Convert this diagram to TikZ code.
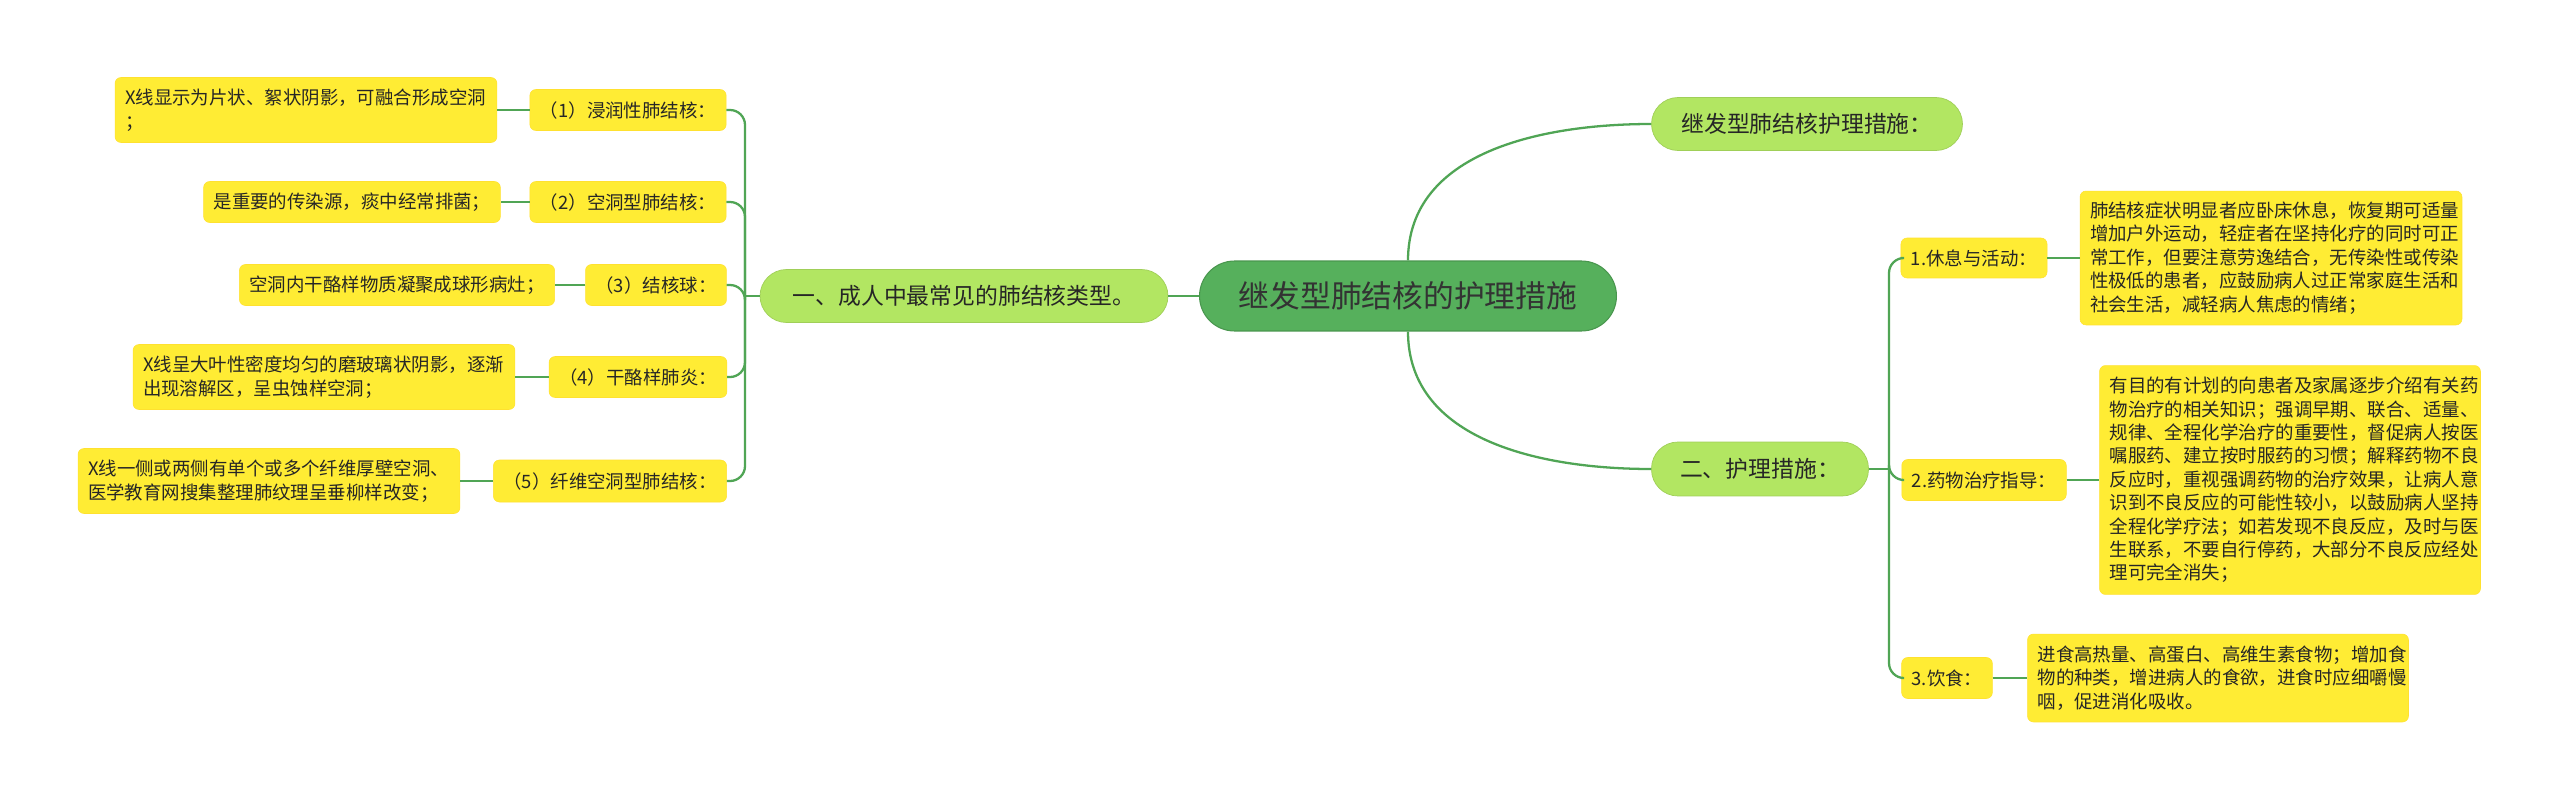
\documentclass[tikz,border=0pt]{standalone}
\usepackage{fontspec}
\setmainfont{Noto Sans CJK SC}
\begin{document}
\begin{tikzpicture}[x=0.02cm,y=-0.02cm,
  line/.style={draw=lineg,line width=1.3pt},
  ctr/.style={fill=cgreen,draw=cgreen!85!black,line width=0.6pt,rounded corners=0.7cm,text=black!80,font=\fontsize{17.5}{20}\selectfont},
  br/.style={fill=lgreen,draw=lgreen!90!black,line width=0.4pt,rounded corners=0.53cm,text=black!85,font=\fontsize{13}{16}\selectfont},
  lf/.style={fill=yel,draw=yel!90!orange,line width=0.3pt,rounded corners=0.12cm,text=black!85,font=\fontsize{10.5}{13.3}\selectfont,inner sep=0.2cm},
  tx/.style={lf,align=left}]
\definecolor{cgreen}{RGB}{86,176,92}
\definecolor{lgreen}{RGB}{178,230,98}
\definecolor{yel}{RGB}{255,236,52}
\definecolor{lineg}{RGB}{80,165,85}
\useasboundingbox[fill=white] (0,0) rectangle (2560,801);
% nodes
\node[ctr,minimum width=8.34cm,minimum height=1.4cm] (c) at (1408,296) {继发型肺结核的护理措施};
\node[br,minimum width=8.16cm,minimum height=1.06cm] (b1) at (964,296) {一、成人中最常见的肺结核类型。};
\node[br,minimum width=6.22cm,minimum height=1.06cm] (rt) at (1807,124) {继发型肺结核护理措施：};
\node[br,minimum width=4.34cm,minimum height=1.08cm] (r2) at (1760,469) {二、护理措施：};
% right leaves
\node[lf,minimum width=2.82cm,minimum height=0.8cm] (l1) at (1974,258) {1.休息与活动：};
\node[tx,text width=7.24cm,minimum height=2.68cm] (t1) at (2271,258) {肺结核症状明显者应卧床休息，恢复期可适量\\增加户外运动，轻症者在坚持化疗的同时可正\\常工作，但要注意劳逸结合，无传染性或传染\\性极低的患者，应鼓励病人过正常家庭生活和\\社会生活，减轻病人焦虑的情绪；};
\node[lf,minimum width=3.2cm,minimum height=0.82cm] (l2) at (1984,480) {2.药物治疗指导：};
\node[tx,text width=7.22cm,minimum height=4.58cm] (t2) at (2290,480) {有目的有计划的向患者及家属逐步介绍有关药\\物治疗的相关知识；强调早期、联合、适量、\\规律、全程化学治疗的重要性，督促病人按医\\嘱服药、建立按时服药的习惯；解释药物不良\\反应时，重视强调药物的治疗效果，让病人意\\识到不良反应的可能性较小，以鼓励病人坚持\\全程化学疗法；如若发现不良反应，及时与医\\生联系，不要自行停药，大部分不良反应经处\\理可完全消失；};
\node[lf,minimum width=1.72cm,minimum height=0.82cm] (l3) at (1947,678) {3.饮食：};
\node[tx,text width=7.22cm,minimum height=1.76cm] (t3) at (2218,678) {进食高热量、高蛋白、高维生素食物；增加食\\物的种类，增进病人的食欲，进食时应细嚼慢\\咽，促进消化吸收。};
% left leaves
\node[lf,minimum width=3.84cm,minimum height=0.82cm] (a1) at (628,110) {（1）浸润性肺结核：};
\node[tx,text width=7.24cm,minimum height=1.3cm] (s1) at (306,110) {X线显示为片状、絮状阴影，可融合形成空洞\\；};
\node[lf,minimum width=3.84cm,minimum height=0.82cm] (a2) at (628,202) {（2）空洞型肺结核：};
\node[lf,minimum width=5.82cm,minimum height=0.82cm] (s2) at (352,202) {是重要的传染源，痰中经常排菌；};
\node[lf,minimum width=2.74cm,minimum height=0.82cm] (a3) at (656,285) {（3）结核球：};
\node[lf,minimum width=6.2cm,minimum height=0.82cm] (s3) at (397,285) {空洞内干酪样物质凝聚成球形病灶；};
\node[lf,minimum width=3.46cm,minimum height=0.82cm] (a4) at (638,377) {（4）干酪样肺炎：};
\node[tx,text width=7.24cm,minimum height=1.3cm] (s4) at (324,377) {X线呈大叶性密度均匀的磨玻璃状阴影，逐渐\\出现溶解区，呈虫蚀样空洞；};
\node[lf,minimum width=4.56cm,minimum height=0.84cm] (a5) at (610,481) {（5）纤维空洞型肺结核：};
\node[tx,text width=7.24cm,minimum height=1.3cm] (s5) at (269,481) {X线一侧或两侧有单个或多个纤维厚壁空洞、\\医学教育网搜集整理肺纹理呈垂柳样改变；};
% connectors
\begin{scope}[on background layer/.style={}]
\draw[line] (c.west) -- (b1.east);
\draw[line] (c.north) to[out=90,in=180] (rt.west);
\draw[line] (c.south) to[out=-90,in=180] (r2.west);
\coordinate (lk) at (745,296);
\coordinate (rk) at (1889,469);
\draw[line] (b1.west) -- (lk);
\foreach \n in {a1,a2,a3,a4,a5}{\draw[line,rounded corners=0.3cm] (lk) |- (\n.east);}
\draw[line] (r2.east) -- (rk);
\foreach \n in {l1,l2,l3}{\draw[line,rounded corners=0.3cm] (rk) |- (\n.west);}
\draw[line] (a1.west) -- (s1.east);
\draw[line] (a2.west) -- (s2.east);
\draw[line] (a3.west) -- (s3.east);
\draw[line] (a4.west) -- (s4.east);
\draw[line] (a5.west) -- (s5.east);
\draw[line] (l1.east) -- (t1.west);
\draw[line] (l2.east) -- (t2.west);
\draw[line] (l3.east) -- (t3.west);
\end{scope}
\end{tikzpicture}
\end{document}
